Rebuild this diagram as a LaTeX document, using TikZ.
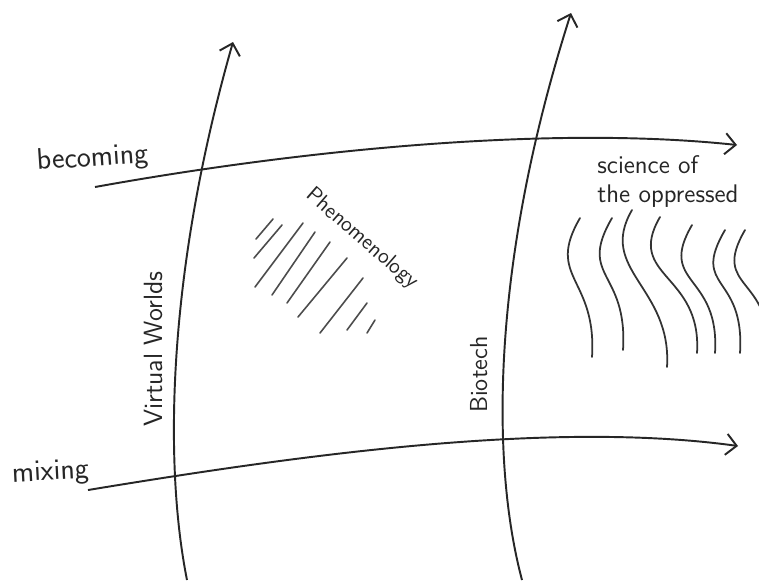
\documentclass[tikz,border=0pt]{standalone}
\usetikzlibrary{arrows.meta}
\begin{document}
\begin{tikzpicture}[x=0.02cm,y=-0.02cm,
  axis/.style={line width=1.1pt,draw=black!85,-{Straight Barb[length=6pt,width=12pt,line width=1.1pt]}},
  hatch/.style={line width=0.9pt,draw=black!70,line cap=round},
  wave/.style={line width=1pt,draw=black!80,line cap=round},
  hand/.style={text=black!85,inner sep=0pt}]
\useasboundingbox[fill=white] (0,0) rectangle (759,583);
\coordinate (V1) at (187,580);
\coordinate (V2) at (233,42);
\coordinate (B1) at (522,580);
\coordinate (B2) at (571,13);
\coordinate (C1) at (95,187);
\coordinate (C2) at (737,145);
\coordinate (M1) at (88,490);
\coordinate (M2) at (738,446);
\draw[axis] (V1) .. controls (165,470) and (165,280) .. (V2);
\draw[axis] (B1) .. controls (490,460) and (492,260) .. (B2);
\draw[axis] (C1) .. controls (300,150) and (550,125) .. (C2);
\draw[axis] (M1) .. controls (300,455) and (550,420) .. (M2);
\node[hand,font=\sffamily\fontsize{17}{20}\selectfont,anchor=base west,rotate=4] (becoming) at (37,170) {becoming};
\node[hand,font=\sffamily\fontsize{17}{20}\selectfont,anchor=base west,rotate=3] (mixing) at (12,482) {mixing};
\node[hand,font=\sffamily\fontsize{15}{18}\selectfont,anchor=base west,rotate=90] (virtual) at (162,427) {Virtual Worlds};
\node[hand,font=\sffamily\fontsize{14}{17}\selectfont,anchor=base west,rotate=90] (biotech) at (487,413) {Biotech};
\node[hand,font=\sffamily\fontsize{12.5}{15}\selectfont,rotate=-41] (pheno) at (362,239) {Phenomenology};
\node[hand,font=\sffamily\fontsize{14.5}{16.5}\selectfont,align=left,anchor=north west] (science) at (597,155) {science of\\the oppressed};
% hatching
\foreach \xa/\ya/\xb/\yb in {256/239/273/219, 254/258/282/225, 255/287/303/223,
  272/295/315/232, 287/303/330/242, 298/317/347/258, 320/333/363/278,
  347/330/367/303, 367/333/375/320}
  \draw[hatch] (\xa,\ya) -- (\xb,\yb);
% waves
\foreach \xa/\ya/\xb/\yb in {580/218/592/357, 612/218/623/350, 632/210/667/367,
  660/217/697/353, 692/225/715/353, 725/230/740/353, 745/230/768/355}
  \draw[wave] (\xa,\ya) .. controls ({\xa-35},{\ya+60}) and ({\xb+5},{\yb-80}) .. (\xb,\yb);
\end{tikzpicture}
\end{document}
